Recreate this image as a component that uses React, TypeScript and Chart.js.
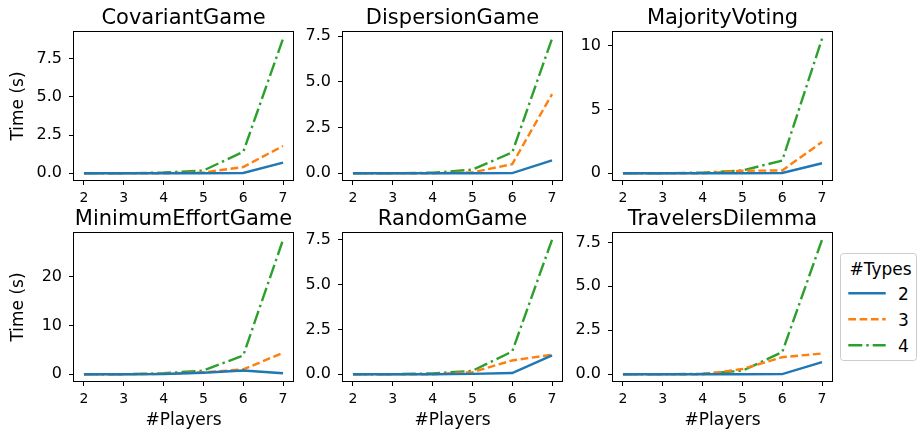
import React, { useEffect, useRef } from "react";
import { Chart, registerables } from "chart.js";

Chart.register(...registerables);

// ---------- data ----------
const players = [2, 3, 4, 5, 6, 7];
const typeLabels = ["2", "3", "4"];
const gameTitles = [
  "CovariantGame",
  "DispersionGame",
  "MajorityVoting",
  "MinimumEffortGame",
  "RandomGame",
  "TravelersDilemma",
];

const covariant2 = [0, 0, 0, 0, 0.02, 0.7];
const covariant3 = [0, 0, 0, 0.05, 0.41, 1.79];
const covariant4 = [0, 0, 0.05, 0.18, 1.4, 8.81];

const dispersion2 = [0, 0, 0, 0, 0.01, 0.7];
const dispersion3 = [0, 0, 0, 0.05, 0.5, 4.33];
const dispersion4 = [0, 0, 0.03, 0.2, 1.14, 7.36];

const majority2 = [0, 0, 0, 0, 0.02, 0.79];
const majority3 = [0, 0, 0, 0.2, 0.22, 2.46];
const majority4 = [0, 0, 0.05, 0.22, 1.0, 10.57];

const minEffort2 = [0, 0, 0.05, 0.32, 0.76, 0.2];
const minEffort3 = [0, 0, 0.1, 0.4, 1.0, 4.4];
const minEffort4 = [0, 0, 0.2, 0.76, 3.86, 27.6];

const random2 = [0, 0, 0, 0.02, 0.07, 1.05];
const random3 = [0, 0, 0, 0.12, 0.77, 1.09];
const random4 = [0, 0, 0.05, 0.19, 1.27, 7.5];

const travelers2 = [0, 0, 0, 0, 0.01, 0.69];
const travelers3 = [0, 0, 0, 0.3, 0.97, 1.18];
const travelers4 = [0, 0, 0.03, 0.2, 1.26, 7.65];

const ticksQuarter = [0, 2.5, 5, 7.5];
const ticksFive = [0, 5, 10];
const ticksTen = [0, 10, 20];

// ---------- styling ----------
const FONT = "'DejaVu Sans', sans-serif";
const colors = ["#1f77b4", "#ff7f0e", "#2ca02c"];
const dashes: number[][] = [[], [7.7, 3.6], [14, 4, 2.4, 4]];
const LINE_W = 2.4;

const plotLefts = [74, 343, 613];
const plotTops = [32, 233];
const PW = 219;
const PH = 148;
const TOP_SPACE = 34;
const RIGHT_SPACE = 6;
const BOTTOM_SPACE = 52;

type PanelDef = {
  title: string;
  series: number[][];
  yTicks: number[];
  decimals: number;
  row: number;
  col: number;
};

const panels: PanelDef[] = [
  { title: gameTitles[0], series: [covariant2, covariant3, covariant4], yTicks: ticksQuarter, decimals: 1, row: 0, col: 0 },
  { title: gameTitles[1], series: [dispersion2, dispersion3, dispersion4], yTicks: ticksQuarter, decimals: 1, row: 0, col: 1 },
  { title: gameTitles[2], series: [majority2, majority3, majority4], yTicks: ticksFive, decimals: 0, row: 0, col: 2 },
  { title: gameTitles[3], series: [minEffort2, minEffort3, minEffort4], yTicks: ticksTen, decimals: 0, row: 1, col: 0 },
  { title: gameTitles[4], series: [random2, random3, random4], yTicks: ticksQuarter, decimals: 1, row: 1, col: 1 },
  { title: gameTitles[5], series: [travelers2, travelers3, travelers4], yTicks: ticksQuarter, decimals: 1, row: 1, col: 2 },
];

const framePlugin = {
  id: "frame",
  afterDraw(chart: any) {
    const { ctx, chartArea: a } = chart;
    ctx.save();
    ctx.strokeStyle = "#000";
    ctx.lineWidth = 1;
    ctx.strokeRect(a.left - 0.5, a.top - 0.5, a.right - a.left + 1, a.bottom - a.top + 1);
    ctx.restore();
  },
};

function makeTitlePlugin(text: string) {
  return {
    id: "subtitleText",
    afterDraw(chart: any) {
      const { ctx, chartArea: a } = chart;
      ctx.save();
      ctx.fillStyle = "#000";
      ctx.font = `21px ${FONT}`;
      ctx.textAlign = "center";
      ctx.textBaseline = "alphabetic";
      ctx.fillText(text, (a.left + a.right) / 2, a.top - 8);
      ctx.restore();
    },
  };
}

function Panel({ p }: { p: PanelDef }) {
  const ref = useRef<HTMLCanvasElement>(null);
  const leftSpace = p.col === 0 ? 70 : 45;
  const w = leftSpace + PW + RIGHT_SPACE;
  const h = TOP_SPACE + PH + BOTTOM_SPACE;

  useEffect(() => {
    const all = p.series.flat();
    const mx = Math.max(...all);
    const mn = Math.min(...all);
    const pad = (mx - mn) * 0.05;
    const chart = new Chart(ref.current as HTMLCanvasElement, {
      type: "line",
      data: {
        datasets: p.series.map((s, i) => ({
          label: typeLabels[i],
          data: players.map((x, j) => ({ x, y: s[j] })),
          borderColor: colors[i],
          backgroundColor: colors[i],
          borderWidth: LINE_W,
          borderDash: dashes[i],
          pointRadius: 0,
          fill: false,
          tension: 0,
        })),
      },
      options: {
        responsive: false,
        animation: false,
        devicePixelRatio: 1,
        layout: { padding: { top: TOP_SPACE, right: RIGHT_SPACE, left: 0, bottom: 0 } },
        plugins: {
          legend: { display: false },
          tooltip: { enabled: false },
          title: { display: false },
        },
        scales: {
          x: {
            type: "linear",
            min: 1.75,
            max: 7.25,
            afterBuildTicks: (s: any) => {
              s.ticks = players.map((v) => ({ value: v }));
            },
            afterFit: (s: any) => {
              s.height = BOTTOM_SPACE;
            },
            grid: { drawOnChartArea: false, drawTicks: true, tickLength: 5, color: "#000", lineWidth: 1 },
            border: { display: false },
            ticks: {
              color: "#000",
              font: { family: FONT, size: 14 },
              padding: 4.5,
              maxRotation: 0,
              autoSkip: false,
              callback: (v: any) => String(v),
            },
            title: {
              display: p.row === 1,
              text: "#Players",
              color: "#000",
              font: { family: FONT, size: 17 },
              padding: { top: 0, bottom: 2 },
            },
          },
          y: {
            type: "linear",
            min: mn - pad,
            max: mx + pad,
            afterBuildTicks: (s: any) => {
              s.ticks = p.yTicks.map((v) => ({ value: v }));
            },
            afterFit: (s: any) => {
              s.width = leftSpace;
            },
            grid: { drawOnChartArea: false, drawTicks: true, tickLength: 5, color: "#000", lineWidth: 1 },
            border: { display: false },
            ticks: {
              color: "#000",
              font: { family: FONT, size: 16 },
              padding: 7,
              callback: (v: any) => Number(v).toFixed(p.decimals),
            },
            title: {
              display: p.col === 0,
              text: "Time (s)",
              color: "#000",
              font: { family: FONT, size: 17 },
              padding: { top: 4, bottom: 0 },
            },
          },
        },
      } as any,
      plugins: [framePlugin, makeTitlePlugin(p.title)],
    });
    return () => chart.destroy();
  }, []);

  return (
    <div
      style={{
        position: "absolute",
        left: plotLefts[p.col] - leftSpace,
        top: plotTops[p.row] - TOP_SPACE,
        width: w,
        height: h,
      }}
    >
      <canvas ref={ref} width={w} height={h} style={{ width: w, height: h, display: "block" }} />
    </div>
  );
}

function Legend() {
  const rows = [40.3, 66.3, 92.3];
  return (
    <svg
      width={78}
      height={110}
      style={{ position: "absolute", left: 840, top: 253 }}
    >
      <rect x={0.5} y={0.5} width={76} height={107} rx={3} ry={3} fill="#fff" fillOpacity={0.8} stroke="#cccccc" strokeWidth={1} />
      <text x={40.5} y={21.7} textAnchor="middle" fontFamily={FONT} fontSize={17} fill="#000">
        #Types
      </text>
      {typeLabels.map((lab, i) => (
        <g key={lab}>
          <line
            x1={8.3}
            x2={45.7}
            y1={rows[i]}
            y2={rows[i]}
            stroke={colors[i]}
            strokeWidth={LINE_W}
            strokeDasharray={dashes[i].length ? dashes[i].join(" ") : undefined}
          />
          <text x={58} y={rows[i] + 6.3} fontFamily={FONT} fontSize={17} fill="#000">
            {lab}
          </text>
        </g>
      ))}
    </svg>
  );
}

export default function App() {
  return (
    <div style={{ position: "fixed", left: 0, top: 0, width: 918, height: 437, background: "#fff", overflow: "hidden" }}>
      {panels.map((p, i) => (
        <Panel key={i} p={p} />
      ))}
      <Legend />
    </div>
  );
}
